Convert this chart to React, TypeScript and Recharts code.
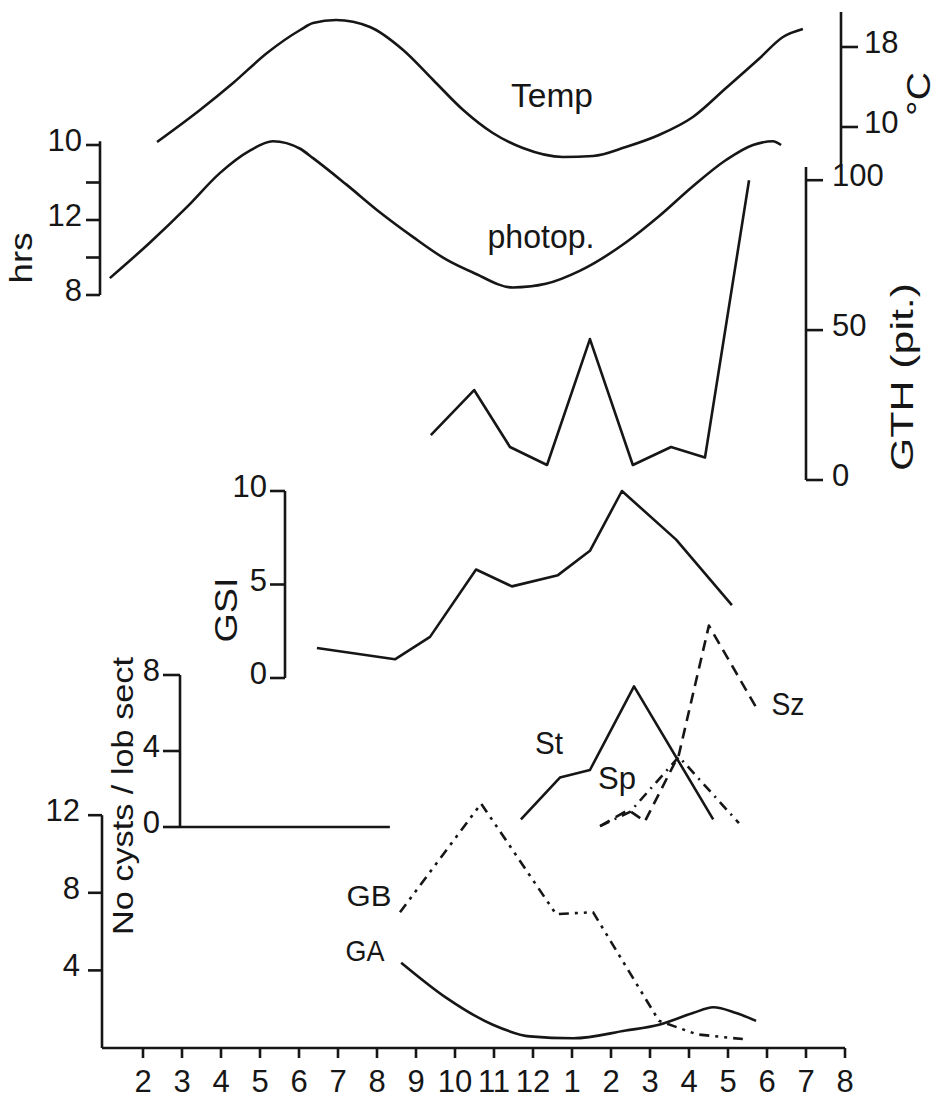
import { Line, LineChart, ReferenceLine, XAxis, YAxis } from "recharts"

// month axis: 0 = Feb of first year ... 18 = Aug of next year
const monthTicks = [0, 1, 2, 3, 4, 5, 6, 7, 8, 9, 10, 11, 12, 13, 14, 15, 16, 17, 18]
const monthLabels = ["2", "3", "4", "5", "6", "7", "8", "9", "10", "11", "12", "1", "2", "3", "4", "5", "6", "7", "8"]

const tempMonths = [0.36, 1.46, 2.31, 3.18, 4.03, 4.36, 4.95, 5.82, 6.67, 7.44, 8.21, 8.97, 9.74, 10.77, 11.54, 12.38, 13.23, 14.1, 14.95, 15.79, 16.41, 16.92]
const tempValues = [8.5, 11.7, 14.4, 17.4, 19.7, 20.4, 20.7, 20.0, 17.7, 14.7, 11.7, 9.4, 7.9, 7.0, 7.1, 8.0, 9.2, 11.0, 13.9, 16.8, 19.0, 19.8]

const photoMonths = [-0.85, 0.18, 1.13, 1.97, 2.74, 3.33, 4.03, 4.36, 5.21, 6.08, 6.92, 7.77, 8.46, 9.49, 10.33, 11.21, 12.38, 13.23, 14.1, 14.95, 15.64, 16.15, 16.36]
const photoValues = [8.9, 10.8, 12.7, 14.5, 15.7, 16.2, 15.8, 15.3, 13.9, 12.4, 11.1, 9.9, 9.2, 8.4, 8.6, 9.3, 10.8, 12.2, 13.8, 15.2, 16.0, 16.2, 16.0]

const gthMonths = [7.38, 8.49, 9.41, 10.36, 11.46, 12.56, 13.54, 14.41, 15.54]
const gthValues = [15, 30, 11, 5, 47, 5, 11, 7.5, 100]

const gsiMonths = [4.46, 6.46, 7.36, 8.54, 9.46, 10.64, 11.46, 12.28, 13.67, 15.1]
const gsiValues = [1.6, 1.0, 2.2, 5.8, 4.9, 5.5, 6.8, 10.0, 7.4, 3.9]

const stMonths = [9.69, 10.69, 11.46, 12.59, 14.62]
const stValues = [0.4, 2.6, 3.0, 7.4, 0.4]

const spMonths = [11.72, 12.49, 13.74, 15.28]
const spValues = [0.05, 0.8, 3.7, 0.2]

const szMonths = [11.72, 12.44, 12.87, 13.74, 14.51, 15.72]
const szValues = [0.05, 0.9, 0.3, 3.8, 10.6, 6.3]

const gbMonths = [6.59, 8.67, 10.59, 11.54, 13.23, 14.21, 15.38]
const gbValues = [7.0, 12.6, 6.9, 7.0, 1.4, 0.7, 0.46]

const gaMonths = [6.62, 7.77, 8.97, 9.92, 11.03, 12.38, 13.23, 14.1, 14.62, 15.21, 15.72]
const gaValues = [4.4, 2.6, 1.2, 0.6, 0.5, 0.9, 1.2, 1.8, 2.1, 1.8, 1.4]

const W = 939
const H = 1101
const X0 = 143 // pixel of first month tick
const DX = 39 // pixels per month

const ink = "#161616"
const font = "'Liberation Sans', Arial, sans-serif"
const lineW = 2.6

const zip = (ms: number[], vs: number[]) => ms.map((m, i) => ({ m, v: vs[i] }))
const xDomain = (left: number, right: number): [number, number] => [(left - X0) / DX, (right - X0) / DX]

const tickText = { fill: ink, fontSize: 31, fontFamily: font, dy: -5 }
const axisStroke = { stroke: ink, strokeWidth: lineW }

function Layer({ children }: { children: React.ReactNode }) {
  return <div style={{ position: "absolute", left: 0, top: 0 }}>{children}</div>
}

function Series({ data, dash, smooth }: { data: { m: number; v: number }[]; dash?: string; smooth?: boolean }) {
  return (
    <Line
      data={data}
      dataKey="v"
      type={smooth ? "monotone" : "linear"}
      stroke={ink}
      strokeWidth={lineW}
      strokeDasharray={dash}
      strokeLinejoin="round"
      dot={false}
      activeDot={false}
      isAnimationActive={false}
    />
  )
}

function Rotated({ x, y, len, size, children }: { x: number; y: number; len: number; size: number; children: string }) {
  return (
    <text
      transform={`translate(${x},${y}) rotate(-90)`}
      textAnchor="middle"
      fontSize={size}
      fontFamily={font}
      fill={ink}
      textLength={len}
      lengthAdjust="spacingAndGlyphs"
    >
      {children}
    </text>
  )
}

function Flat({ x, y, len, size, children }: { x: number; y: number; len: number; size: number; children: string }) {
  return (
    <text x={x} y={y} textAnchor="middle" fontSize={size} fontFamily={font} fill={ink} textLength={len} lengthAdjust="spacingAndGlyphs">
      {children}
    </text>
  )
}

const hrsLabels: Record<number, string> = { 8: "8", 12: "12", 16: "10" }

export default function App() {
  const cystLeft = xDomain(180, 845)[0]
  const lowLeft = xDomain(102, 845)[0]

  return (
    <div style={{ position: "absolute", left: 0, top: 0, width: W, height: H, background: "#fff" }}>
      {/* temperature */}
      <Layer>
        <LineChart width={W} height={H} margin={{ top: 12, bottom: H - 165, left: 100, right: W - 841 - 70 }}>
          <XAxis type="number" dataKey="m" domain={xDomain(100, 841)} hide />
          <YAxis orientation="right" width={70} domain={[6.2, 21.5]} ticks={[10, 18]} interval={0}
            tickSize={17} tickMargin={6} tick={tickText} axisLine={axisStroke} tickLine={axisStroke} />
          <Series data={zip(tempMonths, tempValues)} smooth />
        </LineChart>
      </Layer>

      {/* photoperiod */}
      <Layer>
        <LineChart width={W} height={H} margin={{ top: 141.25, bottom: H - 295, left: 100 - 60, right: W - 845 }}>
          <XAxis type="number" dataKey="m" domain={xDomain(100, 845)} hide />
          <YAxis width={60} domain={[8, 16.2]} ticks={[8, 10, 12, 14, 16]} interval={0}
            tickFormatter={(v: number) => hrsLabels[v] ?? ""}
            tickSize={14} tickMargin={4} tick={tickText} axisLine={axisStroke} tickLine={axisStroke} />
          <Series data={zip(photoMonths, photoValues)} smooth />
        </LineChart>
      </Layer>

      {/* GTH */}
      <Layer>
        <LineChart width={W} height={H} margin={{ top: 167, bottom: H - 480, left: 100, right: W - 806 - 70 }}>
          <XAxis type="number" dataKey="m" domain={xDomain(100, 806)} hide />
          <YAxis orientation="right" width={70} domain={[0, 104.4]} ticks={[0, 50, 100]} interval={0}
            tickSize={17} tickMargin={9} tick={tickText} axisLine={axisStroke} tickLine={axisStroke} />
          <Series data={zip(gthMonths, gthValues)} />
        </LineChart>
      </Layer>

      {/* GSI */}
      <Layer>
        <LineChart width={W} height={H} margin={{ top: 491, bottom: H - 678, left: 285 - 60, right: W - 845 }}>
          <XAxis type="number" dataKey="m" domain={xDomain(285, 845)} hide />
          <YAxis width={60} domain={[0, 10]} ticks={[0, 5, 10]} interval={0}
            tickSize={15} tickMargin={3} tick={tickText} axisLine={axisStroke} tickLine={axisStroke} />
          <Series data={zip(gsiMonths, gsiValues)} />
        </LineChart>
      </Layer>

      {/* St / Sp / Sz */}
      <Layer>
        <LineChart width={W} height={H} margin={{ top: 827 - 11 * 19, bottom: H - 827, left: 180 - 60, right: W - 845 }}>
          <XAxis type="number" dataKey="m" domain={xDomain(180, 845)} hide />
          <YAxis width={60} domain={[0, 11]} ticks={[0, 4, 8]} interval={0}
            tickSize={17} tickMargin={3} tick={tickText} axisLine={false} tickLine={axisStroke} />
          <ReferenceLine segment={[{ x: cystLeft, y: 0 }, { x: cystLeft, y: 8 }]} {...axisStroke} />
          <ReferenceLine segment={[{ x: cystLeft, y: 0 }, { x: 6.33, y: 0 }]} {...axisStroke} />
          <Series data={zip(stMonths, stValues)} />
          <Series data={zip(spMonths, spValues)} dash="10 6 2 6" />
          <Series data={zip(szMonths, szValues)} dash="11 7" />
        </LineChart>
      </Layer>

      {/* GA / GB with month axis */}
      <Layer>
        <LineChart width={W} height={H} margin={{ top: 1048 - 13 * 19.4, bottom: H - 1048 - 40, left: 102 - 60, right: W - 845 }}>
          <XAxis type="number" dataKey="m" domain={xDomain(102, 845)} height={40} ticks={monthTicks} interval={0}
            tickFormatter={(v: number) => monthLabels[v]}
            tickSize={10} tickMargin={12} tick={{ fill: ink, fontSize: 31, fontFamily: font }}
            axisLine={axisStroke} tickLine={axisStroke} />
          <YAxis width={60} domain={[0, 13]} ticks={[4, 8, 12]} interval={0}
            tickSize={14} tickMargin={8} tick={tickText} axisLine={false} tickLine={axisStroke} />
          <ReferenceLine segment={[{ x: lowLeft, y: 0 }, { x: lowLeft, y: 12 }]} {...axisStroke} />
          <Series data={zip(gbMonths, gbValues)} dash="10 6 3 6 3 6" />
          <Series data={zip(gaMonths, gaValues)} smooth />
        </LineChart>
      </Layer>

      {/* titles and series labels */}
      <svg width={W} height={H} style={{ position: "absolute", left: 0, top: 0 }}>
        <Flat x={552} y={107} len={82} size={34}>Temp</Flat>
        <Flat x={541} y={248} len={107} size={34}>photop.</Flat>
        <Flat x={549} y={754} len={28} size={32}>St</Flat>
        <Flat x={617} y={789} len={38} size={32}>Sp</Flat>
        <Flat x={788} y={715} len={33} size={32}>Sz</Flat>
        <Flat x={369} y={906} len={45} size={30}>GB</Flat>
        <Flat x={365} y={961} len={39} size={30}>GA</Flat>
        <Rotated x={32} y={258} len={51} size={32}>hrs</Rotated>
        <Rotated x={930} y={94} len={44} size={34}>°C</Rotated>
        <Rotated x={913} y={377} len={188} size={31}>GTH (pit.)</Rotated>
        <Rotated x={237} y={610} len={65} size={32}>GSI</Rotated>
        <Rotated x={133} y={796} len={278} size={29}>No cysts / lob sect</Rotated>
      </svg>
    </div>
  )
}
